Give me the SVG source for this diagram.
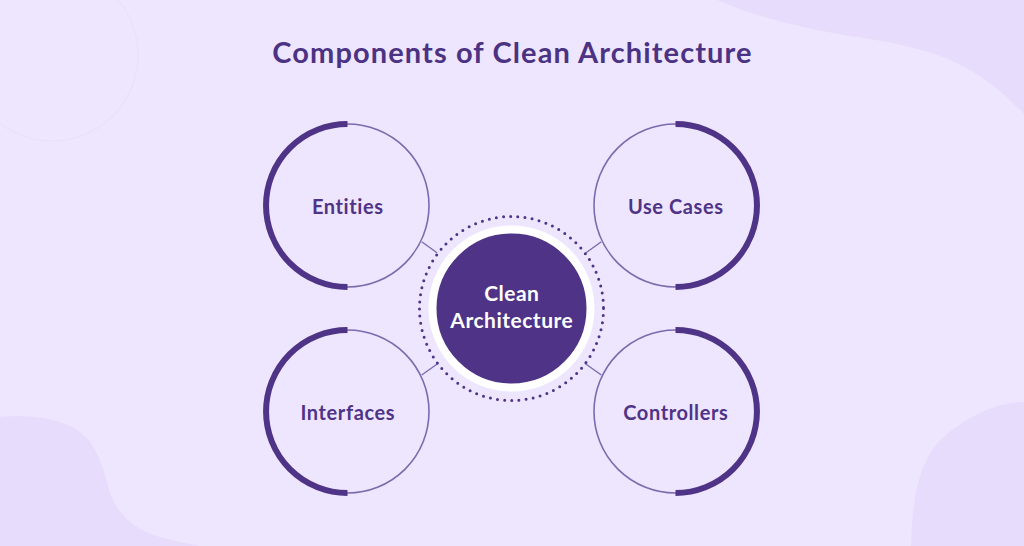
<svg xmlns="http://www.w3.org/2000/svg" width="1024" height="546" viewBox="0 0 1024 546">
  <defs>
    <style>
      .ring { fill: none; stroke: #7C6AAE; stroke-width: 1.6; }
      .arc { fill: none; stroke: #4E3387; stroke-width: 6; }
      .lbl { font-family: Lato, "Liberation Sans", sans-serif; font-weight: 700; font-size: 20px; letter-spacing: 0.6px; fill: #4E3387; text-anchor: middle; }
      .clbl { font-family: Lato, "Liberation Sans", sans-serif; font-weight: 700; font-size: 21px; letter-spacing: 0.5px; fill: #FFFFFF; text-anchor: middle; }
      .conn { stroke: #7C6AAE; stroke-width: 1.4; fill: none; }
    </style>
  </defs>
  <!-- background -->
  <rect x="0" y="0" width="1024" height="546" fill="#EEE6FE"/>
  <path d="M717 0 C760 18 800 28 850 36 C900 43 940 52 970 70 C995 85 1010 100 1024 114 L1024 0 Z" fill="#E8DCFD"/>
  <path d="M0 417 C30 414 60 418 80 432 C98 446 104 470 110 493 C118 515 135 530 160 537 C175 541 190 544 200 546 L0 546 Z" fill="#E8DCFD"/>
  <path d="M1024 402 C995 402 965 418 940 440 C920 462 912 495 911 546 L1024 546 Z" fill="#E8DCFD"/>
  <circle cx="52" cy="55" r="86" fill="none" stroke="#E9E2F9" stroke-width="1.6"/>

  <text x="512.5" y="63" font-family="Lato, 'Liberation Sans', sans-serif" font-weight="700" font-size="29" letter-spacing="1.1" fill="#4B3283" text-anchor="middle">Components of Clean Architecture</text>

  <g id="connectors">
    <line class="conn" x1="421.7" y1="241.7" x2="437" y2="252.7"/>
    <line class="conn" x1="601.3" y1="241.7" x2="586" y2="252.7"/>
    <line class="conn" x1="421.7" y1="375" x2="438.3" y2="363.3"/>
    <line class="conn" x1="601.3" y1="375" x2="584.7" y2="363.3"/>
  </g>

  <g id="center">
    <circle cx="511.5" cy="308.5" r="92" fill="none" stroke="#4E3387" stroke-width="3" stroke-linecap="round" stroke-dasharray="0 7.2"/>
    <circle cx="511.5" cy="308.5" r="79" fill="#4E3387" stroke="#FFFFFF" stroke-width="8"/>
    <text class="clbl" x="511.8" y="301">Clean</text>
    <text class="clbl" x="511.8" y="327.5">Architecture</text>
  </g>

  <g id="entities">
    <circle class="ring" cx="347.5" cy="205.5" r="81.5"/>
    <path class="arc" d="M347.5 124 A81.5 81.5 0 0 0 347.5 287"/>
    <text class="lbl" x="347.8" y="213.5">Entities</text>
  </g>
  <g id="use-cases">
    <circle class="ring" cx="675.5" cy="205.5" r="81.5"/>
    <path class="arc" d="M675.5 124 A81.5 81.5 0 0 1 675.5 287"/>
    <text class="lbl" x="675.8" y="213.5">Use Cases</text>
  </g>
  <g id="interfaces">
    <circle class="ring" cx="347.5" cy="411.5" r="81.5"/>
    <path class="arc" d="M347.5 330 A81.5 81.5 0 0 0 347.5 493"/>
    <text class="lbl" x="347.8" y="419.5">Interfaces</text>
  </g>
  <g id="controllers">
    <circle class="ring" cx="675.5" cy="411.5" r="81.5"/>
    <path class="arc" d="M675.5 330 A81.5 81.5 0 0 1 675.5 493"/>
    <text class="lbl" x="675.8" y="419.5">Controllers</text>
  </g>
</svg>
